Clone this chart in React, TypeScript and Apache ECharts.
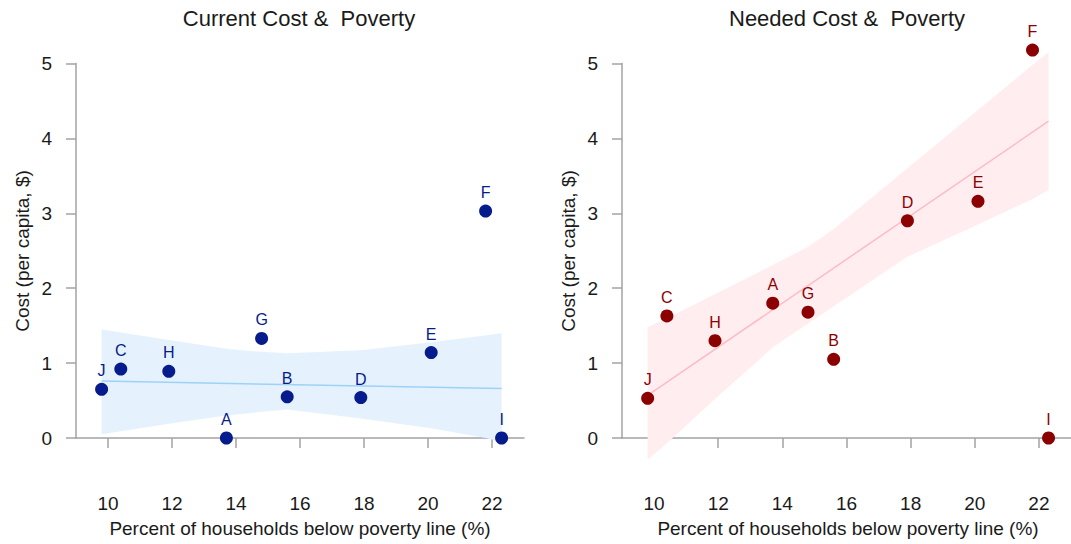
import React, { useEffect, useRef } from "react";
import * as echarts from "echarts";

// ---- data ----
const letters = ["A", "B", "C", "D", "E", "F", "G", "H", "I", "J"];
const povertyPct = [13.7, 15.6, 10.4, 17.9, 20.1, 21.8, 14.8, 11.9, 22.3, 9.8];
const currentCost = [0, 0.55, 0.92, 0.54, 1.14, 3.03, 1.33, 0.89, 0, 0.65];
const neededCost = [1.8, 1.05, 1.63, 2.9, 3.16, 5.18, 1.68, 1.3, 0, 0.53];

// confidence band (read at the sorted x positions)
const bandX = [9.8, 10.4, 11.9, 13.7, 14.8, 15.6, 17.9, 20.1, 21.8, 22.3];
const currentUpper = [1.45, 1.41, 1.31, 1.19, 1.15, 1.13, 1.17, 1.28, 1.37, 1.4];
const currentLower = [0.05, 0.09, 0.19, 0.3, 0.35, 0.38, 0.26, 0.13, 0.0, -0.05];
const neededUpper = [1.48, 1.6, 1.92, 2.31, 2.55, 2.79, 3.6, 4.38, 4.98, 5.15];
const neededLower = [-0.29, -0.07, 0.52, 1.21, 1.53, 1.76, 2.42, 2.85, 3.19, 3.31];

// fitted lines (end points)
const fitX = [9.8, 22.3];
const currentFit = [0.76, 0.66];
const neededFit = [0.57, 4.23];

const xTicks = [10, 12, 14, 16, 18, 20, 22];
const titles = ["Current Cost &  Poverty", "Needed Cost &  Poverty"];
const xName = "Percent of households below poverty line (%)";
const yName = "Cost (per capita, $)";

const FONT = "'Liberation Sans', Arial, Helvetica, sans-serif";
const AXIS_COLOR = "#a3a3a3";
const TEXT_COLOR = "#1a1a1a";

const panels = [
  {
    left: 76,
    width: 448,
    costs: currentCost,
    upper: currentUpper,
    lower: currentLower,
    fit: currentFit,
    point: "#061c8c",
    band: "#e5f2fd",
    line: "#9dd2f6",
  },
  {
    left: 622,
    width: 452,
    costs: neededCost,
    upper: neededUpper,
    lower: neededLower,
    fit: neededFit,
    point: "#8b0000",
    band: "#ffedf0",
    line: "#fcbcc7",
  },
];

function buildOption() {
  const grid: any[] = [];
  const xAxis: any[] = [];
  const yAxis: any[] = [];
  const series: any[] = [];
  const graphic: any[] = [];

  panels.forEach((p, i) => {
    grid.push({ left: p.left, width: p.width, top: 63.5, height: 374.5, containLabel: false });
    xAxis.push({
      type: "value",
      gridIndex: i,
      min: 9,
      max: 23,
      offset: 38,
      axisLine: { show: true, lineStyle: { color: AXIS_COLOR, width: 1.5 } },
      axisTick: { show: true, length: 10, customValues: xTicks, lineStyle: { color: AXIS_COLOR, width: 1.5 } },
      axisLabel: { customValues: xTicks, fontSize: 19, color: TEXT_COLOR, margin: 18, fontFamily: FONT },
      splitLine: { show: false },
    });
    yAxis.push({
      type: "value",
      gridIndex: i,
      min: 0,
      max: 5,
      interval: 1,
      axisLine: { show: true, lineStyle: { color: AXIS_COLOR, width: 1.5 } },
      axisTick: { show: true, length: 10, lineStyle: { color: AXIS_COLOR, width: 1.5 } },
      axisLabel: { fontSize: 19, color: TEXT_COLOR, margin: 24, fontFamily: FONT },
      splitLine: { show: false },
    });

    series.push({
      type: "custom",
      xAxisIndex: i,
      yAxisIndex: i,
      clip: false,
      silent: true,
      z: 1,
      data: bandX.map((x, k) => [x, p.upper[k], p.lower[k]]),
      encode: { x: 0, y: [1, 2] },
      renderItem: (params: any, api: any) => {
        if (params.dataIndex !== 0) return null;
        const pts: number[][] = [];
        for (let k = 0; k < bandX.length; k++) pts.push(api.coord([bandX[k], p.upper[k]]));
        for (let k = bandX.length - 1; k >= 0; k--) pts.push(api.coord([bandX[k], p.lower[k]]));
        return { type: "polygon", shape: { points: pts }, style: { fill: p.band } };
      },
    });

    series.push({
      type: "line",
      xAxisIndex: i,
      yAxisIndex: i,
      clip: false,
      silent: true,
      z: 2,
      symbol: "none",
      showSymbol: false,
      lineStyle: { color: p.line, width: 1.5 },
      data: fitX.map((x, k) => [x, p.fit[k]]),
    });

    series.push({
      type: "scatter",
      xAxisIndex: i,
      yAxisIndex: i,
      clip: false,
      z: 3,
      symbolSize: 13,
      itemStyle: { color: p.point, opacity: 1 },
      label: {
        show: true,
        position: "top",
        distance: 4,
        formatter: "{b}",
        color: p.point,
        fontSize: 16,
        fontFamily: FONT,
      },
      data: letters.map((n, k) => ({ name: n, value: [povertyPct[k], p.costs[k]] })),
    });

    const cx = p.left + p.width / 2;
    graphic.push({
      type: "text",
      x: cx - 1,
      y: 18,
      silent: true,
      style: {
        text: titles[i],
        fontSize: 22,
        fontFamily: FONT,
        fill: TEXT_COLOR,
        align: "center",
        verticalAlign: "middle",
        textAlign: "center",
        textVerticalAlign: "middle",
      },
    });
    graphic.push({
      type: "text",
      x: cx,
      y: 528,
      silent: true,
      style: {
        text: xName,
        fontSize: 19,
        fontFamily: FONT,
        fill: TEXT_COLOR,
        align: "center",
        verticalAlign: "middle",
        textAlign: "center",
        textVerticalAlign: "middle",
      },
    });
    graphic.push({
      type: "text",
      x: p.left - 54,
      y: 251,
      rotation: Math.PI / 2,
      silent: true,
      style: {
        text: yName,
        fontSize: 19,
        fontFamily: FONT,
        fill: TEXT_COLOR,
        align: "center",
        verticalAlign: "middle",
        textAlign: "center",
        textVerticalAlign: "middle",
      },
    });
  });

  return {
    animation: false,
    backgroundColor: "#ffffff",
    grid,
    xAxis,
    yAxis,
    series,
    graphic,
  };
}

export default function App() {
  const ref = useRef<HTMLDivElement>(null);
  useEffect(() => {
    if (!ref.current) return;
    const chart = echarts.init(ref.current, undefined, { renderer: "svg" });
    chart.setOption(buildOption());
    return () => chart.dispose();
  }, []);
  return (
    <div
      ref={ref}
      style={{ position: "fixed", left: 0, top: 0, width: 1071, height: 544, background: "#fff" }}
    />
  );
}
